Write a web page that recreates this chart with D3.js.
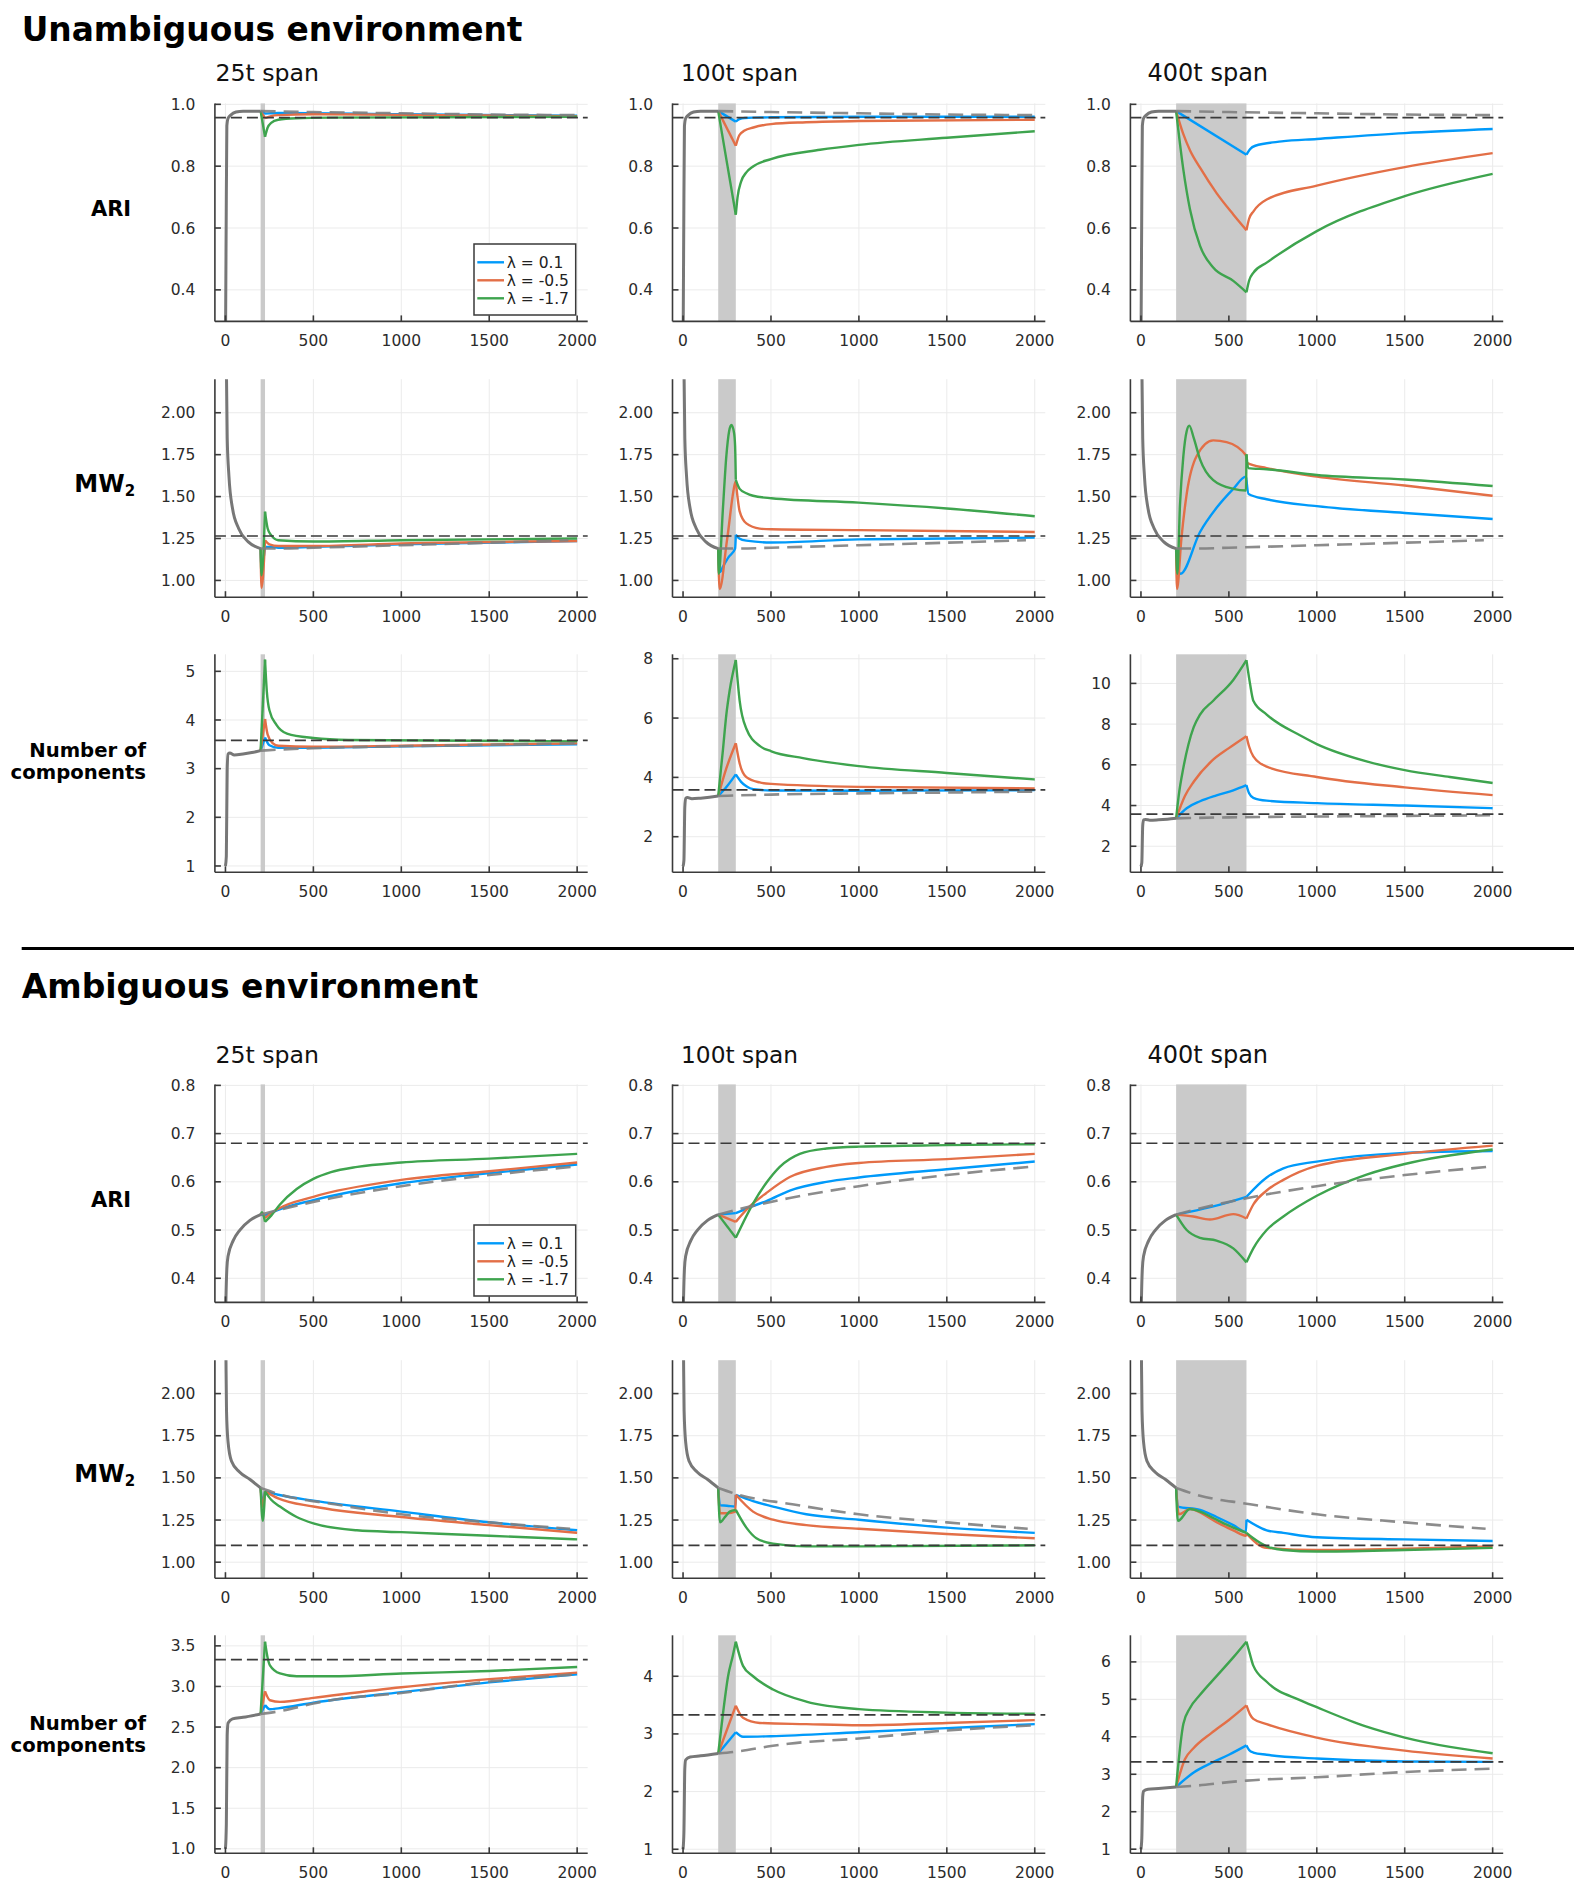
<!DOCTYPE html>
<html><head><meta charset="utf-8">
<script src="https://cdn.jsdelivr.net/npm/d3@7"></script>
<style>
body{margin:0;background:#fff;}
svg text{font-family:"DejaVu Sans",sans-serif;}
</style></head><body>
<svg id="chart" width="1586" height="1890"></svg>
<script>
// ---------------- DATA ----------------
const timeTicks = [0, 500, 1000, 1500, 2000];
const spanLengths = [25, 100, 400];
const spanTitles = ["25t span", "100t span", "400t span"];
const envTitles = ["Unambiguous environment", "Ambiguous environment"];
const legendLabels = ["λ = 0.1", "λ = -0.5", "λ = -1.7"];
const seriesColors = ["#009AFA", "#E36F47", "#3EA44E"];

// ---- Unambiguous: ARI ----
const unAriDomain = [0.298, 1.003];
const unAriTicks = [0.4, 0.6, 0.8, 1.0];
const unAriRef = 0.957;
const unAriBase = [[0,0.2],[4,0.6],[8,0.93],[15,0.955],[30,0.965],[60,0.975],[100,0.978],[200,0.978]];
const unAriCtrl = [[200,0.978],[500,0.975],[1000,0.971],[1500,0.967],[2000,0.965]];
const unAri25 = [
  [[200,0.978],[225,0.970],[260,0.971],[300,0.972],[1000,0.968],[2000,0.963]],
  [[200,0.978],[225,0.955],[260,0.962],[300,0.965],[500,0.968],[1000,0.966],[2000,0.962]],
  [[200,0.978],[225,0.895],[240,0.925],[260,0.940],[300,0.950],[400,0.955],[600,0.957],[2000,0.960]]
];
const unAri100 = [
  [[200,0.978],[300,0.944],[320,0.952],[350,0.956],[500,0.958],[1000,0.960],[2000,0.960]],
  [[200,0.978],[300,0.866],[320,0.900],[350,0.915],[400,0.925],[500,0.936],[700,0.942],[1000,0.946],[2000,0.950]],
  [[200,0.978],[250,0.810],[300,0.643],[310,0.700],[330,0.750],[360,0.780],[400,0.800],[500,0.823],[780,0.853],[1000,0.869],[1500,0.892],[2000,0.913]]
];
const unAri400 = [
  [[200,0.978],[600,0.837],[620,0.855],[650,0.866],[800,0.880],[1000,0.888],[1500,0.907],[2000,0.920]],
  [[200,0.978],[240,0.905],[280,0.850],[336,0.795],[430,0.713],[525,0.644],[600,0.593],[615,0.630],[640,0.654],[715,0.692],[1000,0.737],[1500,0.797],[2000,0.842]],
  [[200,0.978],[241,0.789],[279,0.660],[336,0.542],[411,0.472],[525,0.429],[600,0.392],[615,0.430],[640,0.456],[715,0.488],[1000,0.590],[1500,0.703],[2000,0.775]]
];

// ---- Unambiguous: MW2 ----
const unMwDomain = [0.90, 2.20];
const unMwTicks = [1.00, 1.25, 1.50, 1.75, 2.00];
const unMwRef = 1.265;
const unMwBase = [[0,3.0],[5,2.3],[10,1.85],[20,1.62],[40,1.43],[75,1.31],[130,1.23],[200,1.19]];
const unMwCtrl = [[200,1.19],[300,1.19],[500,1.195],[1000,1.21],[1500,1.225],[1950,1.24]];
const unMw25 = [
  [[200,1.19],[205,1.08],[225,1.20],[260,1.20],[300,1.195],[500,1.20],[1000,1.215],[2000,1.235]],
  [[200,1.19],[205,0.955],[225,1.24],[250,1.215],[300,1.205],[500,1.205],[1000,1.22],[2000,1.235]],
  [[200,1.19],[205,1.03],[225,1.41],[240,1.31],[260,1.27],[300,1.24],[500,1.232],[1000,1.24],[2000,1.25]]
];
const unMw100 = [
  [[200,1.19],[210,1.05],[227,1.082],[260,1.14],[296,1.19],[300,1.272],[320,1.25],[360,1.237],[500,1.226],[1000,1.245],[1500,1.25],[2000,1.255]],
  [[200,1.19],[208,0.948],[250,1.24],[296,1.58],[300,1.59],[322,1.412],[360,1.34],[436,1.309],[500,1.305],[1000,1.30],[2000,1.289]],
  [[200,1.19],[203,1.04],[227,1.433],[246,1.74],[262,1.89],[275,1.927],[290,1.88],[296,1.80],[300,1.60],[322,1.546],[360,1.52],[398,1.505],[502,1.49],[1000,1.464],[1500,1.429],[2000,1.383]]
];
const unMw400 = [
  [[200,1.19],[215,1.05],[225,1.04],[336,1.289],[430,1.433],[525,1.546],[597,1.619],[600,1.60],[612,1.515],[715,1.484],[1000,1.443],[1500,1.402],[2000,1.366]],
  [[200,1.19],[205,0.948],[230,1.25],[260,1.515],[317,1.742],[411,1.835],[487,1.825],[597,1.746],[600,1.72],[605,1.70],[715,1.67],[1000,1.619],[1500,1.566],[2000,1.505]],
  [[200,1.19],[207,1.04],[222,1.45],[241,1.74],[260,1.89],[275,1.923],[300,1.85],[336,1.722],[411,1.598],[525,1.546],[597,1.536],[600,1.752],[610,1.67],[715,1.663],[1000,1.629],[1500,1.602],[2000,1.563]]
];

// ---- Unambiguous: number of components ----
const unNocDomains = [[0.87, 5.35], [0.80, 8.15], [0.72, 11.43]];
const unNocTicks = [[1,2,3,4,5], [2,4,6,8], [2,4,6,8,10]];
const unNocRef = 3.58;
const unNocBase = [[0,1.0],[5,1.2],[10,3.0],[15,3.3],[25,3.32],[50,3.28],[100,3.30],[150,3.33],[200,3.37]];
const unNocCtrl = [[200,3.37],[300,3.39],[500,3.42],[1000,3.46],[1500,3.49],[2000,3.52]];
const unNoc25 = [
  [[200,3.37],[225,3.64],[250,3.48],[300,3.43],[500,3.43],[1000,3.46],[2000,3.50]],
  [[200,3.37],[225,4.02],[240,3.70],[270,3.52],[300,3.47],[500,3.45],[1000,3.47],[2000,3.52]],
  [[200,3.37],[225,5.24],[235,4.60],[250,4.20],[290,3.90],[350,3.72],[500,3.63],[700,3.59],[2000,3.56]]
];
const unNoc100 = [
  [[200,3.37],[250,3.70],[300,4.10],[330,3.85],[360,3.70],[400,3.60],[500,3.56],[1000,3.55],[2000,3.57]],
  [[200,3.37],[246,4.30],[300,5.15],[322,4.47],[360,4.01],[436,3.83],[502,3.78],[1000,3.68],[2000,3.63]],
  [[200,3.37],[227,4.94],[246,6.11],[265,6.93],[300,7.96],[322,6.58],[360,5.64],[436,5.06],[502,4.88],[682,4.65],[1000,4.38],[1500,4.15],[2000,3.93]]
];
const unNoc400 = [
  [[200,3.37],[260,3.87],[336,4.21],[430,4.50],[525,4.75],[600,5.00],[615,4.60],[639,4.38],[715,4.24],[1000,4.12],[1500,4.00],[2000,3.87]],
  [[200,3.37],[250,4.47],[300,5.17],[400,6.17],[500,6.82],[600,7.41],[615,6.90],[639,6.42],[715,5.91],[1000,5.40],[1500,4.89],[2000,4.51]],
  [[200,3.37],[215,4.50],[240,5.80],[270,7.00],[300,7.85],[336,8.47],[411,9.15],[525,10.17],[600,11.14],[620,10.0],[639,9.15],[715,8.47],[904,7.45],[1000,7.02],[1283,6.17],[1500,5.74],[1757,5.40],[2000,5.11]]
];

// ---- Ambiguous: ARI ----
const amAriDomain = [0.35, 0.802];
const amAriTicks = [0.4, 0.5, 0.6, 0.7, 0.8];
const amAriRef = 0.68;
const amAriBase = [[0,0.30],[3,0.36],[8,0.42],[15,0.446],[44,0.478],[82,0.50],[139,0.52],[200,0.532]];
const amAriCtrl = [[200,0.532],[350,0.546],[600,0.566],[1000,0.591],[1500,0.614],[2000,0.632]];
const amAri25 = [
  [[200,0.532],[225,0.530],[300,0.542],[500,0.562],[1000,0.597],[1500,0.618],[2000,0.636]],
  [[200,0.532],[210,0.535],[225,0.525],[300,0.544],[500,0.569],[1000,0.604],[1500,0.622],[2000,0.640]],
  [[200,0.532],[208,0.537],[225,0.517],[260,0.530],[310,0.553],[405,0.585],[500,0.606],[600,0.620],[750,0.631],[1000,0.640],[1500,0.648],[2000,0.658]]
];
const amAri100 = [
  [[200,0.532],[300,0.535],[400,0.550],[474,0.560],[607,0.582],[815,0.600],[1000,0.609],[1500,0.626],[2000,0.642]],
  [[200,0.532],[300,0.517],[379,0.549],[474,0.577],[607,0.610],[815,0.631],[1000,0.639],[1500,0.647],[2000,0.658]],
  [[200,0.532],[300,0.484],[398,0.555],[474,0.598],[550,0.631],[664,0.658],[815,0.669],[1000,0.673],[1500,0.676],[2000,0.678]]
];
const amAri400 = [
  [[200,0.532],[400,0.548],[600,0.569],[715,0.609],[810,0.628],[1000,0.642],[1500,0.660],[2000,0.664]],
  [[200,0.532],[298,0.528],[392,0.522],[525,0.533],[600,0.524],[639,0.553],[715,0.582],[810,0.604],[1000,0.633],[1500,0.658],[2000,0.675]],
  [[200,0.532],[260,0.500],[336,0.484],[430,0.478],[525,0.462],[600,0.433],[639,0.462],[715,0.500],[810,0.528],[1000,0.571],[1283,0.615],[1500,0.637],[2000,0.667]]
];

// ---- Ambiguous: MW2 ----
const amMwDomain = [0.905, 2.198];
const amMwTicks = [1.00, 1.25, 1.50, 1.75, 2.00];
const amMwRef = 1.10;
const amMwBase = [[0,2.6],[3,2.2],[6,1.9],[15,1.71],[34,1.60],[80,1.535],[140,1.49],[200,1.44]];
const amMwCtrl = [[200,1.44],[336,1.394],[600,1.347],[1000,1.284],[1500,1.236],[1960,1.198]];
const amMw25 = [
  [[200,1.44],[210,1.36],[225,1.42],[300,1.40],[500,1.365],[1000,1.30],[1500,1.237],[2000,1.189]],
  [[200,1.44],[210,1.33],[225,1.42],[300,1.378],[500,1.33],[1000,1.268],[1500,1.22],[2000,1.174]],
  [[200,1.44],[212,1.245],[225,1.42],[260,1.37],[310,1.33],[405,1.268],[500,1.23],[747,1.189],[1000,1.178],[1500,1.157],[2000,1.135]]
];
const amMw100 = [
  [[200,1.44],[210,1.337],[250,1.335],[297,1.33],[300,1.40],[398,1.362],[512,1.33],[701,1.284],[1000,1.252],[1500,1.205],[2000,1.174]],
  [[200,1.44],[210,1.29],[250,1.29],[297,1.30],[300,1.40],[398,1.30],[512,1.252],[701,1.22],[1000,1.198],[1500,1.167],[2000,1.142]],
  [[200,1.44],[210,1.237],[240,1.27],[265,1.30],[300,1.31],[360,1.205],[417,1.142],[512,1.11],[701,1.094],[1000,1.094],[2000,1.10]]
];
const amMw400 = [
  [[200,1.44],[210,1.33],[336,1.31],[430,1.268],[525,1.22],[597,1.18],[600,1.252],[715,1.189],[810,1.174],[1000,1.148],[1500,1.135],[2000,1.126]],
  [[200,1.44],[215,1.284],[279,1.315],[430,1.237],[525,1.189],[597,1.157],[600,1.17],[660,1.11],[715,1.085],[1000,1.072],[1500,1.08],[2000,1.094]],
  [[200,1.44],[210,1.245],[279,1.315],[336,1.30],[430,1.252],[525,1.205],[600,1.174],[639,1.142],[715,1.094],[810,1.072],[1000,1.063],[1500,1.072],[2000,1.085]]
];

// ---- Ambiguous: number of components ----
const amNocDomains = [[0.945, 3.63], [0.93, 4.71], [0.89, 6.71]];
const amNocTicks = [[1.0,1.5,2.0,2.5,3.0,3.5], [1,2,3,4], [1,2,3,4,5,6]];
const amNocRef = 3.33;
const amNocBase = [[0,1.0],[5,1.3],[10,2.4],[15,2.55],[40,2.60],[100,2.62],[200,2.66]];
const amNocCtrl = [[200,2.66],[320,2.70],[500,2.79],[600,2.83],[1000,2.92],[1500,3.06],[2000,3.15]];
const amNoc25 = [
  [[200,2.66],[225,2.77],[253,2.72],[300,2.73],[500,2.80],[1000,2.93],[1500,3.05],[2000,3.15]],
  [[200,2.66],[225,2.94],[253,2.83],[310,2.81],[500,2.86],[1000,2.99],[1500,3.09],[2000,3.17]],
  [[200,2.66],[225,3.55],[240,3.35],[253,3.26],[310,3.16],[405,3.125],[600,3.125],[1000,3.16],[1500,3.19],[2000,3.24]]
];
const amNoc100 = [
  [[200,2.66],[300,3.03],[341,2.95],[500,2.96],[1000,3.03],[1500,3.10],[2000,3.17]],
  [[200,2.66],[300,3.49],[341,3.28],[436,3.19],[701,3.17],[1000,3.15],[1500,3.19],[2000,3.24]],
  [[200,2.66],[227,3.35],[256,4.00],[284,4.37],[300,4.60],[341,4.18],[398,4.00],[512,3.77],[701,3.56],[1000,3.43],[1500,3.37],[2000,3.35]]
];
const amNoc400 = [
  [[200,2.66],[300,3.05],[400,3.30],[500,3.52],[600,3.77],[615,3.65],[639,3.58],[715,3.52],[1000,3.42],[1500,3.34],[2000,3.33]],
  [[200,2.66],[250,3.40],[300,3.70],[400,4.10],[500,4.45],[600,4.84],[620,4.60],[639,4.48],[715,4.34],[1000,3.98],[1500,3.63],[2000,3.42]],
  [[200,2.66],[241,4.34],[279,4.77],[336,5.12],[430,5.62],[525,6.12],[600,6.54],[620,6.20],[639,5.90],[715,5.47],[904,4.98],[1000,4.79],[1283,4.27],[1500,3.98],[1757,3.73],[2000,3.56]]
];

// ---------------- LAYOUT ----------------
const svg = d3.select("#chart");
const W = 372.8, H = 218;
const colLeft = [214.9, 672.5, 1130.4];
const rowTop = [103.4, 379.2, 654.3];
const sectionShift = 981;

const x = d3.scaleLinear().domain([-60, 2060]).range([0, W]);

const rows = [
  {env:0, r:0, doms:[unAriDomain,unAriDomain,unAriDomain], ticks:[unAriTicks,unAriTicks,unAriTicks], fmts:[".1f",".1f",".1f"], ref:unAriRef, base:unAriBase, ctrl:unAriCtrl, series:[unAri25,unAri100,unAri400], legend:true},
  {env:0, r:1, doms:[unMwDomain,unMwDomain,unMwDomain], ticks:[unMwTicks,unMwTicks,unMwTicks], fmts:[".2f",".2f",".2f"], ref:unMwRef, base:unMwBase, ctrl:unMwCtrl, series:[unMw25,unMw100,unMw400]},
  {env:0, r:2, doms:unNocDomains, ticks:unNocTicks, fmts:["d","d","d"], ref:unNocRef, base:unNocBase, ctrl:unNocCtrl, series:[unNoc25,unNoc100,unNoc400]},
  {env:1, r:0, doms:[amAriDomain,amAriDomain,amAriDomain], ticks:[amAriTicks,amAriTicks,amAriTicks], fmts:[".1f",".1f",".1f"], ref:amAriRef, base:amAriBase, ctrl:amAriCtrl, series:[amAri25,amAri100,amAri400], legend:true},
  {env:1, r:1, doms:[amMwDomain,amMwDomain,amMwDomain], ticks:[amMwTicks,amMwTicks,amMwTicks], fmts:[".2f",".2f",".2f"], ref:amMwRef, base:amMwBase, ctrl:amMwCtrl, series:[amMw25,amMw100,amMw400]},
  {env:1, r:2, doms:amNocDomains, ticks:amNocTicks, fmts:[".1f","d","d"], ref:amNocRef, base:amNocBase, ctrl:amNocCtrl, series:[amNoc25,amNoc100,amNoc400]}
];

function splitAt(pts, breaks) {
  const segs = [];
  let cur = [];
  let bi = 0;
  pts.forEach(p => {
    cur.push(p);
    while (bi < breaks.length && p[0] >= breaks[bi]) {
      if (p[0] === breaks[bi]) { segs.push(cur); cur = [p]; }
      bi++;
    }
  });
  if (cur.length > 1) segs.push(cur);
  return segs.filter(s => s.length > 1);
}

let clipId = 0;
rows.forEach(row => {
  for (let c = 0; c < 3; c++) {
    const left = colLeft[c];
    const top = rowTop[row.r] + row.env * sectionShift;
    const y = d3.scaleLinear().domain(row.doms[c]).range([H, 0]);
    const g = svg.append("g").attr("transform", `translate(${left},${top})`);
    const span = spanLengths[c];

    // grid
    g.append("g").selectAll("line").data(timeTicks).join("line")
      .attr("x1", d => x(d)).attr("x2", d => x(d)).attr("y1", 0).attr("y2", H)
      .attr("stroke", "#ebebeb").attr("stroke-width", 1);
    g.append("g").selectAll("line").data(row.ticks[c]).join("line")
      .attr("x1", 0).attr("x2", W).attr("y1", d => y(d)).attr("y2", d => y(d))
      .attr("stroke", "#ebebeb").attr("stroke-width", 1);

    // shaded perturbation window
    g.append("rect").attr("x", x(200)).attr("width", x(200 + span) - x(200))
      .attr("y", 0).attr("height", H).attr("fill", "#cacaca");

    const id = "clip" + (clipId++);
    g.append("clipPath").attr("id", id).append("rect")
      .attr("x", 0).attr("y", 0).attr("width", W).attr("height", H);
    const plot = g.append("g").attr("clip-path", `url(#${id})`);

    const line = d3.line().x(d => x(d[0])).y(d => y(d[1])).curve(d3.curveMonotoneX);

    // colored series
    row.series[c].forEach((s, i) => {
      splitAt(s, [200, 200 + span]).forEach(seg => {
        plot.append("path").attr("d", line(seg)).attr("fill", "none")
          .attr("stroke", seriesColors[i]).attr("stroke-width", 2.4)
          .attr("stroke-linejoin", "round");
      });
    });
    // undisturbed control (dashed gray)
    plot.append("path").attr("d", line(row.ctrl)).attr("fill", "none")
      .attr("stroke", "#808080").attr("stroke-opacity", 0.9).attr("stroke-width", 2.6)
      .attr("stroke-dasharray", "15,8");
    // baseline before perturbation
    plot.append("path").attr("d", line(row.base)).attr("fill", "none")
      .attr("stroke", "#777777").attr("stroke-width", 3);
    // reference line
    g.append("line").attr("x1", 0).attr("x2", W).attr("y1", y(row.ref)).attr("y2", y(row.ref))
      .attr("stroke", "#3a3a3a").attr("stroke-width", 1.7).attr("stroke-dasharray", "11,5");

    // axes (spines + inner ticks)
    const ax = g.append("g").attr("stroke", "#3a3a3a").attr("stroke-width", 1.6);
    ax.append("line").attr("x1", 0).attr("x2", 0).attr("y1", 0).attr("y2", H);
    ax.append("line").attr("x1", 0).attr("x2", W).attr("y1", H).attr("y2", H);
    ax.selectAll(".xt").data(timeTicks).join("line").attr("class", "xt")
      .attr("x1", d => x(d)).attr("x2", d => x(d)).attr("y1", H).attr("y2", H - 6);
    ax.selectAll(".yt").data(row.ticks[c]).join("line").attr("class", "yt")
      .attr("x1", 0).attr("x2", 6).attr("y1", d => y(d)).attr("y2", d => y(d));

    g.append("g").selectAll("text").data(timeTicks).join("text")
      .attr("x", d => x(d)).attr("y", H + 25).attr("text-anchor", "middle")
      .attr("font-size", 15.5).attr("fill", "#2b2b2b").text(d => d);
    const f = d3.format(row.fmts[c]);
    g.append("g").selectAll("text").data(row.ticks[c]).join("text")
      .attr("x", -19.5).attr("y", d => y(d)).attr("dy", "0.36em").attr("text-anchor", "end")
      .attr("font-size", 15.5).attr("fill", "#2b2b2b").text(d => f(d));

    // legend
    if (row.legend && c === 0) {
      const lg = g.append("g").attr("transform", `translate(${W - 113.7},${140.6})`);
      lg.append("rect").attr("width", 101.7).attr("height", 71).attr("fill", "#fff")
        .attr("stroke", "#3a3a3a").attr("stroke-width", 1.5);
      legendLabels.forEach((lab, i) => {
        const yy = 18.3 + i * 18;
        lg.append("line").attr("x1", 3.3).attr("x2", 30).attr("y1", yy).attr("y2", yy)
          .attr("stroke", seriesColors[i]).attr("stroke-width", 2.4);
        lg.append("text").attr("x", 32.7).attr("y", yy).attr("dy", "0.36em")
          .attr("font-size", 15.5).attr("fill", "#222").text(lab);
      });
    }
  }
});

// ---------------- TEXT ----------------
function fit(sel, target) {
  const w = sel.node().getComputedTextLength();
  const fs = parseFloat(sel.attr("font-size"));
  sel.attr("font-size", fs * target / w);
  return sel;
}
const sans = "Inter, Roboto, 'Noto Sans', sans-serif";

fit(svg.append("text").attr("x", 21.7).attr("y", 40.5).attr("font-family", sans)
  .attr("font-weight", 700).attr("font-size", 34).text(envTitles[0]), 501);
fit(svg.append("text").attr("x", 21.7).attr("y", 997.5).attr("font-family", sans)
  .attr("font-weight", 700).attr("font-size", 34).text(envTitles[1]), 457);

svg.append("line").attr("x1", 21.7).attr("x2", 1574).attr("y1", 948.5).attr("y2", 948.5)
  .attr("stroke", "#000").attr("stroke-width", 3);

const spanTitleX = [215.4, 681, 1147.5];
const spanTitleW = [103.7, 117, 120.7];
[0, 1].forEach(env => {
  spanTitles.forEach((t, c) => {
    fit(svg.append("text").attr("x", spanTitleX[c]).attr("y", 81 + env * 981.5)
      .attr("font-family", sans).attr("font-size", 22).attr("fill", "#111").text(t), spanTitleW[c]);
  });
});

const ariY = [216, 1207];
const mwY = [492.3, 1482];
const nocY = [[756.7, 779], [1729.5, 1752]];
[0, 1].forEach(env => {
  fit(svg.append("text").attr("x", 90.9).attr("y", ariY[env]).attr("font-family", sans)
    .attr("font-weight", 700).attr("font-size", 23).text("ARI"), 40.3);
  const mw = svg.append("text").attr("x", 74.3).attr("y", mwY[env]).attr("font-family", sans)
    .attr("font-weight", 700).attr("font-size", 24);
  mw.append("tspan").text("MW");
  mw.append("tspan").attr("font-size", 15).attr("dy", 4).text("2");
  const a = svg.append("text").attr("x", 146).attr("y", nocY[env][0]).attr("text-anchor", "end")
    .attr("font-family", sans).attr("font-weight", 700).attr("font-size", 21).text("Number of");
  const b = svg.append("text").attr("x", 146).attr("y", nocY[env][1]).attr("text-anchor", "end")
    .attr("font-family", sans).attr("font-weight", 700).attr("font-size", 21).text("components");
  fit(b, 135.5);
  a.attr("font-size", b.attr("font-size"));
});
</script>
</body></html>
